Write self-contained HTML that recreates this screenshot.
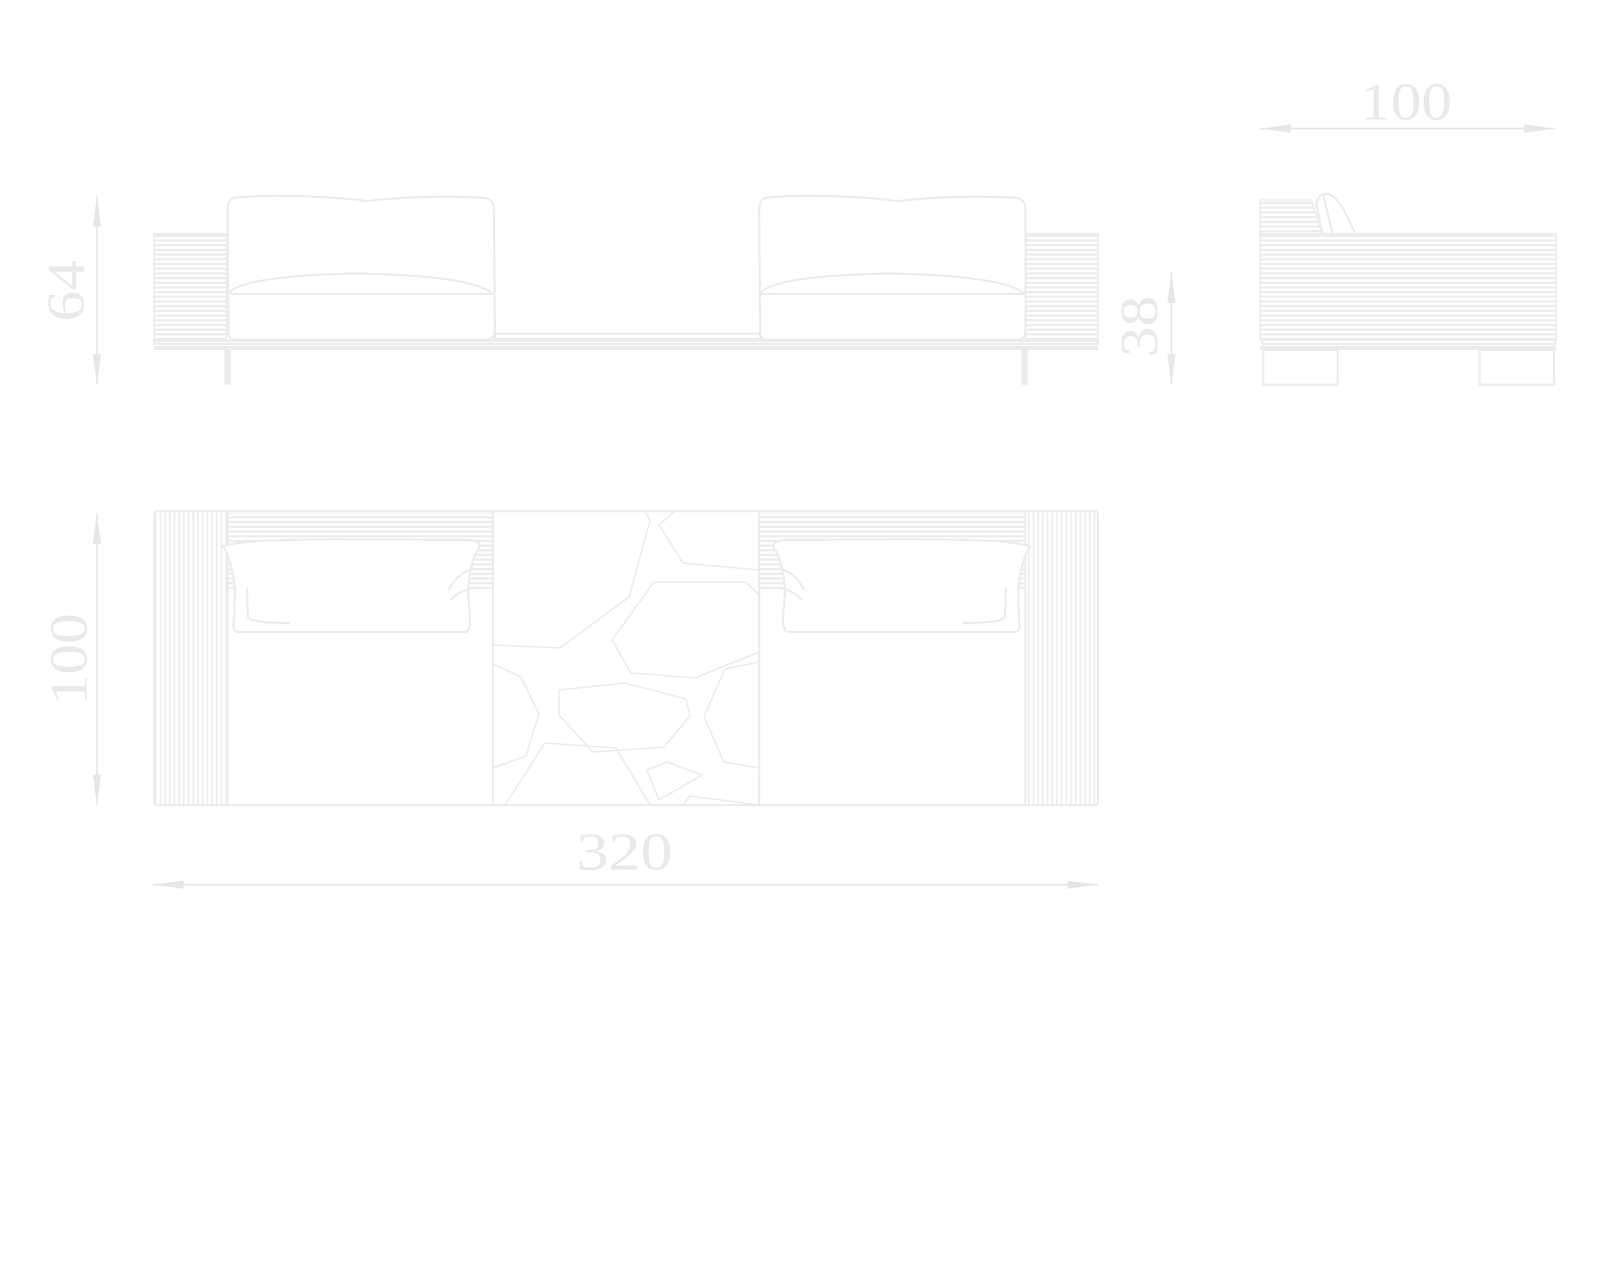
<!DOCTYPE html>
<html><head><meta charset="utf-8"><style>
html,body{margin:0;padding:0;background:#fff;}
svg{display:block;}
text{font-family:"Liberation Serif",serif;fill:#e9e9e9;font-size:52px;}
</style></head><body>
<svg width="1600" height="1280" viewBox="0 0 1600 1280" xmlns="http://www.w3.org/2000/svg">
<defs>
<pattern id="hs" width="10" height="4.6" patternUnits="userSpaceOnUse"><rect width="10" height="2.2" fill="#ececec"/></pattern>
<pattern id="vs" width="4.6" height="10" patternUnits="userSpaceOnUse"><rect width="1.6" height="10" fill="#ececec"/></pattern>
<marker id="ar" viewBox="0 0 30 10" refX="30" refY="5" markerWidth="30" markerHeight="10" markerUnits="userSpaceOnUse" orient="auto"><path d="M0,1 L30,5 L0,9 Z" fill="#e6e6e6"/></marker>
</defs>
<g transform="scale(1.0204)">
<g fill="none" stroke="#ebebeb" stroke-width="2">
<!-- FRONT VIEW -->
<rect x="151" y="229" width="71" height="104" fill="url(#hs)" stroke-width="1.5"/>
<rect x="1005" y="229" width="71" height="104" fill="url(#hs)" stroke-width="1.5"/>
<path d="M229,194 C260,190 320,192 360,197 C400,192 450,192 476,194 Q484,196 484,205 L485,325 Q484,333 476,333 L230,333 Q224,333 224,325 L223,205 Q223,196 229,194 Z"/>
<path d="M224,287 Q240,270 350,268 Q460,270 482,287"/>
<line x1="224" y1="288" x2="483" y2="288"/>
<path d="M750,194 C781,190 841,192 881,197 C921,192 971,192 997,194 Q1005,196 1005,205 L1005,325 Q1004,333 997,333 L751,333 Q745,333 745,325 L744,205 Q744,196 750,194 Z"/>
<path d="M745,287 Q761,270 871,268 Q981,270 1003,287"/>
<line x1="745" y1="288" x2="1004" y2="288"/>
<rect x="485" y="327" width="260" height="5"/>
<rect x="151" y="334" width="925" height="3"/>
<line x1="151" y1="341" x2="1076" y2="341" stroke-width="4"/>
<line x1="223" y1="343" x2="223" y2="377" stroke-width="6"/>
<line x1="1004" y1="343" x2="1004" y2="377" stroke-width="6"/>
<!-- SIDE VIEW -->
<rect x="1235" y="229" width="290" height="104" fill="url(#hs)" stroke-width="1.5"/>
<path d="M1235,229 L1235,196 L1285,196 L1296,229" fill="url(#hs)" stroke-width="1.5"/>
<path d="M1296,229 L1290,200 Q1292,190 1300,190 Q1312,190 1328,229"/>
<line x1="1297" y1="192" x2="1306" y2="229"/>
<rect x="1237" y="333" width="287" height="4"/>
<line x1="1235" y1="341" x2="1525" y2="341" stroke-width="4"/>
<rect x="1238" y="343" width="73" height="34"/>
<rect x="1450" y="343" width="73" height="34"/>
<!-- TOP VIEW -->
<rect x="151" y="501" width="925" height="288" rx="3"/>
<rect x="152" y="502" width="71" height="287" fill="url(#vs)" stroke="none"/>
<rect x="1005" y="502" width="71" height="287" fill="url(#vs)" stroke="none"/>
<line x1="223" y1="501" x2="223" y2="789"/>
<line x1="1005" y1="501" x2="1005" y2="789"/>
<rect x="224" y="503" width="259" height="75" fill="url(#hs)" stroke="none"/>
<rect x="745" y="503" width="259" height="75" fill="url(#hs)" stroke="none"/>
<line x1="483" y1="501" x2="483" y2="789"/>
<line x1="744" y1="501" x2="744" y2="789"/>
<g transform="scale(0.98)">
<path d="M223,546 Q240,542 260,541 C320,538 400,540 470,540 Q482,542 479,548 Q470,560 468,590 L470,620 Q470,632 465,632 L237,632 Q232,630 234,620 L235,590 Q232,560 223,546 Z" fill="#fff"/>
<path d="M247,588 L248,617 Q250,623 290,623"/>
<path d="M449,590 Q455,575 474,568 M451,600 Q460,590 474,588"/>
<path d="M1030,546 Q1013,542 993,541 C933,538 853,540 783,540 Q771,542 774,548 Q783,560 785,590 L783,620 Q783,632 788,632 L1016,632 Q1021,630 1019,620 L1018,590 Q1021,560 1030,546 Z" fill="#fff"/>
<path d="M1006,588 L1005,617 Q1003,623 963,623"/>
<path d="M804,590 Q798,575 779,568 M802,600 Q793,590 779,588"/>
<g stroke-width="1.5">
<path d="M645,511 L650,521 L629,597 L560,648 L495,645 L493,644"/>
<path d="M675,511 L659,525 L683,563 L759,570"/>
<path d="M759,595 L746,582 L654,582 L612,640 L631,673 L695,678 L759,652"/>
<path d="M493,664 L521,677 L539,714 L526,756 L493,768"/>
<path d="M559,690 L625,683 L686,699 L690,716 L664,747 L593,752 L559,715 Z"/>
<path d="M759,662 L725,669 L704,717 L724,762 L759,768"/>
<path d="M505,805 L545,743 L616,748 L650,805"/>
<path d="M647,770 L667,762 L702,775 L659,800 Z"/>
<path d="M683,805 L690,796 L759,805"/>
</g>
</g>
</g>
<g stroke="#e6e6e6" stroke-width="1.5">
<line x1="95" y1="225" x2="95" y2="192" marker-end="url(#ar)"/>
<line x1="95" y1="225" x2="95" y2="355"/>
<line x1="95" y1="345" x2="95" y2="377" marker-end="url(#ar)"/>
<line x1="1148" y1="300" x2="1148" y2="267" marker-end="url(#ar)"/>
<line x1="1148" y1="300" x2="1148" y2="350"/>
<line x1="1148" y1="345" x2="1148" y2="377" marker-end="url(#ar)"/>
<line x1="1268" y1="126" x2="1235" y2="126" marker-end="url(#ar)"/>
<line x1="1268" y1="126" x2="1500" y2="126"/>
<line x1="1490" y1="126" x2="1524" y2="126" marker-end="url(#ar)"/>
<line x1="95" y1="535" x2="95" y2="503" marker-end="url(#ar)"/>
<line x1="95" y1="535" x2="95" y2="770"/>
<line x1="95" y1="757" x2="95" y2="789" marker-end="url(#ar)"/>
<line x1="182" y1="867" x2="150" y2="867" marker-end="url(#ar)"/>
<line x1="182" y1="867" x2="1050" y2="867"/>
<line x1="1044" y1="867" x2="1076" y2="867" marker-end="url(#ar)"/>
</g>
<text x="0" y="0" text-anchor="middle" textLength="60" lengthAdjust="spacingAndGlyphs" transform="translate(82,285) rotate(-90)">64</text>
<text x="0" y="0" text-anchor="middle" textLength="60" lengthAdjust="spacingAndGlyphs" transform="translate(1134,320) rotate(-90)">38</text>
<text x="1378" y="117" text-anchor="middle" textLength="90" lengthAdjust="spacingAndGlyphs">100</text>
<text x="0" y="0" text-anchor="middle" textLength="90" lengthAdjust="spacingAndGlyphs" transform="translate(85,646) rotate(-90)">100</text>
<text x="612" y="852" text-anchor="middle" textLength="94" lengthAdjust="spacingAndGlyphs">320</text>
</g>
</svg>
</body></html>
